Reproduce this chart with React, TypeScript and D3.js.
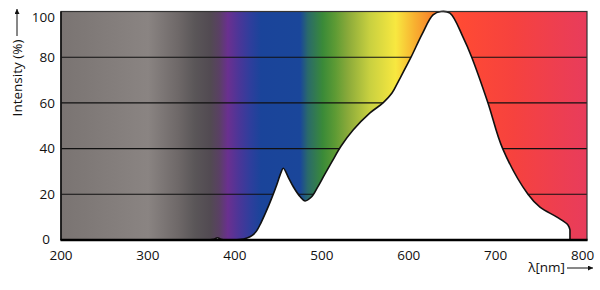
import React from "react";
import * as d3 from "d3";

const wavelengths = [370, 376, 380, 384, 390, 405, 414, 420, 425, 430, 436, 442, 448, 453, 455.7, 462, 467.2, 474.9, 480.6, 488, 495, 503, 512, 522, 536, 555.4, 570.4, 580.7, 588.8, 602.6, 615.2, 627.9, 637, 647.4, 662.4, 672.4, 691.1, 708, 737.1, 750.9, 770.5, 783.1, 785.4];
const intensities = [0, 0.3, 1.0, 0.3, 0, 0.2, 0.9, 2, 4, 7.5, 12.5, 18, 24, 29.5, 31.4, 27, 23.3, 19, 17.1, 18.8, 23, 28.5, 34.5, 41, 48.1, 55.6, 60, 64.3, 70, 80, 90, 98.5, 100, 99.3, 88.8, 80, 60, 40, 20, 14.4, 10, 6.6, 4.4];

const xTicks = [200, 300, 400, 500, 600, 700, 800];
const yTicks = [0, 20, 40, 60, 80, 100];
const gridValues = [20, 40, 60, 80];

const spectrumNm = [200, 300, 335, 354, 372, 382, 392, 405, 418, 430, 475, 484, 501, 515, 530, 555, 585, 607, 622, 640, 660, 720, 805];
const spectrumColors = ["#7a7472", "#8a8482", "#6e6868", "#5a5658", "#524a52", "#5a4064", "#6a3090", "#4a3698", "#2e3e9c", "#1a449a", "#1a469a", "#2a6a6a", "#3a8a38", "#5c9a34", "#8aaa3a", "#c8d040", "#f8e840", "#f8b030", "#f88e2c", "#ff5a2e", "#ff4a34", "#f6423e", "#e83c5c"];

export default function App() {
  const W = 600, H = 290;
  const x = d3.scaleLinear().domain([200, 805]).range([61, 587]);
  const y = d3.scaleLinear().domain([0, 100]).range([240, 11.5]);
  const pts: [number, number][] = wavelengths.map((w, i) => [w, intensities[i]]);
  const curve = d3.curveCatmullRom.alpha(0.5);
  const area = d3.area<[number, number]>()
    .x(d => x(d[0]))
    .y0(y(0))
    .y1(d => y(d[1]))
    .curve(curve);
  const line = d3.line<[number, number]>()
    .x(d => x(d[0]))
    .y(d => y(d[1]))
    .curve(curve);
  const last = pts[pts.length - 1];
  const linePath = (line(pts) || "") + `L${x(last[0])},${y(0)}`;
  const [x0, x1] = x.range();
  const font = "'Open Sans', 'DejaVu Sans', sans-serif";
  return (
    <svg width={W} height={H} style={{ position: "absolute", left: 0, top: 0, background: "#fff" }}>
      <defs>
        <linearGradient id="spec" gradientUnits="userSpaceOnUse" x1={x0} x2={x1} y1={0} y2={0}>
          {spectrumNm.map((n, i) => (
            <stop key={i} offset={(x(n) - x0) / (x1 - x0)} stopColor={spectrumColors[i]} />
          ))}
        </linearGradient>
        <marker id="ah" viewBox="0 0 10 10" refX="10" refY="5" markerWidth="7" markerHeight="5" orient="auto" markerUnits="userSpaceOnUse">
          <path d="M0,0 L10,5 L0,10 z" fill="#111" />
        </marker>
      </defs>
      <rect x={x0} y={y(100)} width={x1 - x0} height={y(0) - y(100)} fill="url(#spec)" />
      {gridValues.map(v => (
        <line key={v} x1={x0} x2={x1} y1={y(v)} y2={y(v)} stroke="#111" strokeWidth={1.1} />
      ))}
      <path d={area(pts) || ""} fill="#fff" />
      <path d={linePath} fill="none" stroke="#111" strokeWidth={1.6} strokeLinejoin="round" />
      <rect x={x0} y={y(100)} width={x1 - x0} height={y(0) - y(100)} fill="none" stroke="#333" strokeWidth={1.2} />
      <line x1={x0} x2={x0} y1={y(100)} y2={y(0)} stroke="#111" strokeWidth={1.6} />
      <line x1={x0 - 0.5} x2={x1 + 0.5} y1={y(0)} y2={y(0)} stroke="#000" strokeWidth={2.6} />
      {yTicks.map(v => (
        <text key={v} x={v === 0 ? 50 : 55} y={v === 100 ? 17 : v === 0 ? 239 : y(v)} dy="0.36em" textAnchor="end" fontFamily={font} fontSize={13.5} fill="#111">{v}</text>
      ))}
      {xTicks.map(v => (
        <text key={v} x={x(v)} y={259.5} textAnchor="middle" fontFamily={font} fontSize={13.5} fill="#111">{v}</text>
      ))}
      <text transform="translate(22,78) rotate(-90)" textAnchor="middle" fontFamily={font} fontSize={13.5} fill="#111">Intensity (%)</text>
      <line x1={17} x2={17} y1={36} y2={9} stroke="#111" strokeWidth={1} markerEnd="url(#ah)" />
      <text x={565} y={272} textAnchor="end" fontFamily={font} fontSize={13.5} fill="#111">λ[nm]</text>
      <line x1={567} x2={593} y1={268} y2={268} stroke="#111" strokeWidth={1} markerEnd="url(#ah)" />
    </svg>
  );
}
